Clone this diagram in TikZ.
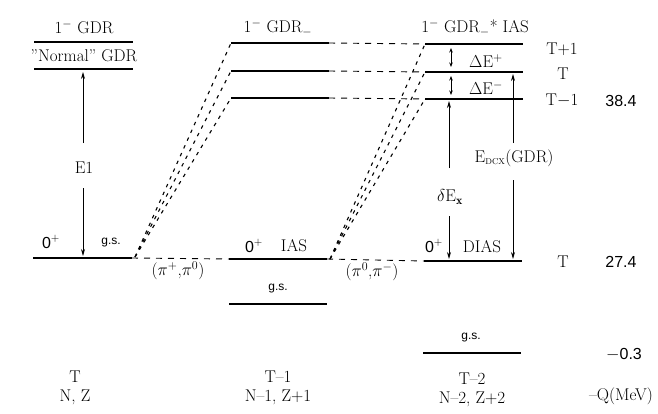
\documentclass[tikz,border=0pt]{standalone}
\usepackage{fontspec}
\setsansfont{Liberation Sans}
\usetikzlibrary{arrows.meta}
\begin{document}
\begin{tikzpicture}[x=1pt,y=-1pt,
  level/.style={line width=2.4pt},
  fan/.style={line width=1.1pt,dash pattern=on 3.5pt off 5pt},
  hdash/.style={line width=0.9pt,dash pattern=on 6pt off 6pt},
  arr/.style={line width=0.8pt,-{Stealth[length=7pt,width=4pt]}},
  darr/.style={line width=0.8pt,{Stealth[length=4.5pt,width=3.5pt]}-{Stealth[length=4.5pt,width=3.5pt]}},
  lbl/.style={inner sep=0pt,font=\fontsize{17}{20}\selectfont},
  slbl/.style={inner sep=0pt,font=\sffamily\fontsize{16}{19}\selectfont},
  tlbl/.style={inner sep=0pt,font=\sffamily\fontsize{12}{14}\selectfont}]
\useasboundingbox (0,0) rectangle (658,413);
% column 1
\coordinate (a1L) at (34,42);  \coordinate (a1R) at (133,42);
\coordinate (a2L) at (34,69);  \coordinate (a2R) at (133,69);
\coordinate (a0L) at (33,258); \coordinate (a0R) at (132,258);
% column 2
\coordinate (b1L) at (231,43);  \coordinate (b1R) at (329,43);
\coordinate (b2L) at (231,71);  \coordinate (b2R) at (329,71);
\coordinate (b3L) at (231,98);  \coordinate (b3R) at (329,98);
\coordinate (b0L) at (229,259); \coordinate (b0R) at (327,259);
\coordinate (bgL) at (229,304); \coordinate (bgR) at (327,304);
% column 3
\coordinate (c1L) at (425,44);  \coordinate (c1R) at (523,44);
\coordinate (c2L) at (425,72);  \coordinate (c2R) at (523,72);
\coordinate (c3L) at (425,99);  \coordinate (c3R) at (523,99);
\coordinate (c0L) at (424,261); \coordinate (c0R) at (522,261);
\coordinate (cgL) at (423,353); \coordinate (cgR) at (521,353);
\foreach \p in {a1,a2,a0,b1,b2,b3,b0,bg,c1,c2,c3,c0,cg}
  \draw[level] (\p L) -- (\p R);
% fans
\coordinate (f1) at (135,257);
\coordinate (f2) at (330,259);
\foreach \t in {b1L,b2L,b3L} \draw[fan] (f1) -- (\t);
\foreach \t in {c1L,c2L,c3L} \draw[fan] (f2) -- (\t);
% horizontal dashes
\draw[hdash] (a0R) -- (b0L);
\draw[hdash] (b0R) -- (c0L);
\draw[hdash] (b1R) -- (c1L);
\draw[hdash] (b2R) -- (c2L);
\draw[hdash] (b3R) -- (c3L);
% column 1 labels and arrows
\node[lbl] (t1) at (84,27) {1$^-$ GDR};
\node[lbl] (t2) at (84,56) {''Normal'' GDR};
\node[lbl] (e1) at (84,168) {E1};
\coordinate (e1up) at (83,143); \coordinate (e1top) at (83,72);
\coordinate (e1dn) at (83,188); \coordinate (e1bot) at (83,256);
\draw[arr] (e1up) -- (e1top);
\draw[arr] (e1dn) -- (e1bot);
\node[slbl] (z1) at (51,242) {0$^+$};
\node[tlbl] (gs1) at (111,243) {g.s.};
% column 2 labels
\node[lbl] (t3) at (278,28) {1$^-$ GDR$_-$};
\node[slbl] (z2) at (254,246) {0$^+$};
\node[lbl] (ias) at (294,246) {IAS};
\node[tlbl] (gs2) at (278,289) {g.s.};
% column 3 labels
\node[lbl] (t4) at (475,28) {1$^-$ GDR$_-$* IAS};
\node[lbl] (dep) at (486,61) {$\Delta$E$^+$};
\node[lbl] (dem) at (486,88) {$\Delta$E$^-$};
\coordinate (dp1) at (451,48); \coordinate (dp2) at (451,67);
\coordinate (dm1) at (451,76); \coordinate (dm2) at (451,95);
\draw[darr] (dp1) -- (dp2);
\draw[darr] (dm1) -- (dm2);
\node[lbl] (dcx) at (514,158) {E$_{\mathrm{\scriptscriptstyle DCX}}$(GDR)};
\node[lbl] (dex) at (450,197) {$\delta$E$_{\mathbf{x}}$};
\coordinate (l1) at (449,168); \coordinate (l2) at (449,101);
\coordinate (l3) at (449,216); \coordinate (l4) at (449,259);
\coordinate (r1) at (513,143); \coordinate (r2) at (513,74);
\coordinate (r3) at (513,180); \coordinate (r4) at (513,259);
\draw[arr] (l1) -- (l2);
\draw[arr] (l3) -- (l4);
\draw[arr] (r1) -- (r2);
\draw[arr] (r3) -- (r4);
\node[slbl] (z3) at (434,246) {0$^+$};
\node[lbl] (dias) at (482,247) {DIAS};
\node[tlbl] (gs3) at (471,338) {g.s.};
% reaction labels
\node[lbl] (pp) at (178,271) {($\pi^+$,$\pi^0$)};
\node[lbl] (pm) at (372,272) {($\pi^0$,$\pi^-$)};
% right labels
\node[lbl] (r11) at (562,49) {T+1};
\node[lbl] (r12) at (563,74) {T};
\node[lbl] (r13) at (562,100) {T$-$1};
\node[slbl] (v1) at (621,101) {38.4};
\node[lbl] (r14) at (563,262) {T};
\node[slbl] (v2) at (621,262) {27.4};
\node[slbl] (v3) at (624,355) {$-$0.3};
% bottom labels
\node[lbl] (n1a) at (75,377) {T};
\node[lbl] (n1b) at (75,397) {N, Z};
\node[lbl] (n2a) at (278,377) {T--1};
\node[lbl] (n2b) at (278,397) {N--1, Z+1};
\node[lbl] (n3a) at (472,379) {T--2};
\node[lbl] (n3b) at (472,399) {N--2, Z+2};
\node[lbl] (q) at (621,396) {--Q(MeV)};
\end{tikzpicture}
\end{document}
